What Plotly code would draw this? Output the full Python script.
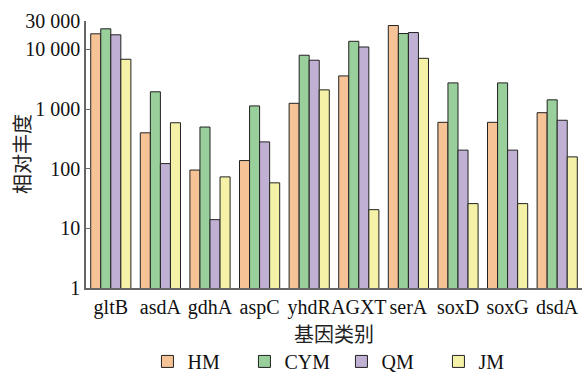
import math
import plotly.graph_objects as go

# Gene categories and relative abundance per sample group
genes = ["gltB", "asdA", "gdhA", "aspC", "yhdR", "AGXT", "serA", "soxD", "soxG", "dsdA"]
hm = [18300, 400, 95, 137, 1250, 3600, 25200, 600, 600, 870]
cym = [22200, 1950, 500, 1130, 8000, 13700, 18500, 2750, 2750, 1430]
qm = [17600, 122, 14, 282, 6600, 11000, 19200, 205, 205, 650]
jm = [6850, 590, 73, 58, 2100, 20.6, 7100, 26, 26, 158]

y_ticks = [1, 10, 100, 1000, 10000, 30000]
y_tick_text = ["1", "10", "100", "1 000", "10 000", "30 000"]

series = [
    ("HM", hm, "#F6C396"),
    ("CYM", cym, "#98CF9A"),
    ("QM", qm, "#C0B0D3"),
    ("JM", jm, "#F5F2A7"),
]

serif = "Liberation Serif, Times New Roman, serif"
cjk = "Noto Sans CJK SC"

fig = go.Figure()
for name, vals, color in series:
    fig.add_trace(go.Bar(
        name=name, x=genes, y=vals,
        marker=dict(color=color, line=dict(color="#222222", width=1)),
    ))

fig.update_layout(
    width=583, height=372,
    margin=dict(l=86, r=1, t=21, b=84, autoexpand=False),
    paper_bgcolor="white", plot_bgcolor="white",
    barmode="group", bargap=0.19, bargroupgap=0,
    font=dict(family=serif, size=20, color="#111111"),
    legend=dict(
        orientation="h", x=0.515, xanchor="center", y=-0.275, yanchor="middle",
        font=dict(family=serif, size=20, color="#111111"),
        entrywidth=52, itemwidth=30,
    ),
    showlegend=True,
    annotations=[dict(
        text="相对丰度", xref="paper", yref="paper", x=-0.13, y=0.5,
        xanchor="center", yanchor="middle", textangle=-90, showarrow=False,
        font=dict(family=cjk, size=20, color="#222222"),
    )],
)
fig.update_yaxes(
    type="log", range=[0, math.log10(30000)], automargin=False,
    tickvals=y_ticks, ticktext=y_tick_text,
    ticks="inside", ticklen=5, tickcolor="#666666",
    showline=True, linecolor="#666666", linewidth=1.5,
    showgrid=False, zeroline=False,
    tickfont=dict(family=serif, size=20),
)
fig.update_xaxes(
    showline=True, linecolor="#666666", linewidth=1.5, automargin=False,
    ticks="", showgrid=False, tickangle=0,
    tickfont=dict(family=serif, size=20),
    title=dict(text="基因类别", font=dict(family=cjk, size=20, color="#222222"), standoff=3),
)

fig.write_html("out.html")
